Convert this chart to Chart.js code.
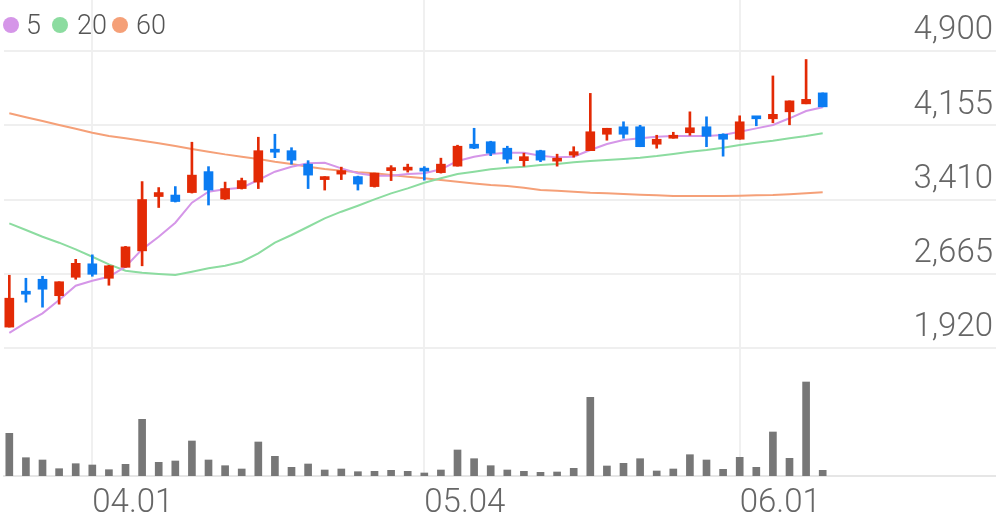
<!DOCTYPE html>
<html>
<head>
<meta charset="utf-8">
<script src="https://cdn.jsdelivr.net/npm/chart.js@4.4.1/dist/chart.umd.min.js"></script>
<style>
  html, body { margin: 0; padding: 0; background: #fff; }
  #wrap { position: relative; width: 996px; height: 519px; }
  #legend { position: absolute; left: 0; top: 0; font-family: Roboto, sans-serif; font-weight: 300; font-size: 27px; color: #555; }
  #legend .dot { position: absolute; width: 16px; height: 16px; border-radius: 50%; top: 17px; }
  #legend .txt { position: absolute; top: 9px; line-height: 32px; }
</style>
</head>
<body>
<div id="wrap">
  <canvas id="chart"></canvas>
  <div id="legend"></div>
</div>
<script>
// trading days (MM.DD)
var dates = ['03.25', '03.26', '03.27', '03.30', '03.31', '04.01', '04.02', '04.03', '04.06', '04.07',
             '04.08', '04.09', '04.10', '04.13', '04.14', '04.16', '04.17', '04.20', '04.21', '04.22',
             '04.23', '04.24', '04.27', '04.28', '04.29', '05.04', '05.06', '05.07', '05.08', '05.11',
             '05.12', '05.13', '05.14', '05.15', '05.18', '05.19', '05.20', '05.21', '05.22', '05.25',
             '05.26', '05.27', '05.28', '05.29', '06.01', '06.02', '06.03', '06.04', '06.05', '06.08'];

var openP  = [2130, 2470, 2610, 2445, 2630, 2765, 2620, 2730, 2895, 3440,
              3455, 3480, 3690, 3415, 3520, 3585, 3895, 3900, 3765, 3610,
              3665, 3640, 3540, 3700, 3705, 3705, 3680, 3745, 3965, 3990,
              3925, 3800, 3900, 3795, 3855, 3900, 4065, 4140, 4140, 3965,
              4025, 4080, 4140, 4065, 4015, 4240, 4220, 4290, 4370, 4480];
var highP  = [2650, 2620, 2640, 2585, 2810, 2855, 2750, 2940, 3590, 3530,
              3540, 3985, 3740, 3585, 3625, 4035, 4065, 3930, 3800, 3640,
              3735, 3645, 3675, 3750, 3765, 3740, 3825, 3955, 4125, 3995,
              3945, 3875, 3905, 3865, 3940, 4475, 4125, 4190, 4155, 4055,
              4085, 4290, 4240, 4070, 4250, 4240, 4650, 4400, 4815, 4480];
var lowP   = [2130, 2380, 2330, 2360, 2610, 2640, 2550, 2730, 2745, 3330,
              3385, 3475, 3355, 3410, 3515, 3520, 3830, 3765, 3520, 3505,
              3610, 3505, 3535, 3600, 3685, 3605, 3675, 3745, 3920, 3850,
              3775, 3745, 3790, 3745, 3835, 3900, 4005, 4025, 3940, 3925,
              4025, 4055, 3940, 3845, 4015, 4150, 4180, 4160, 4370, 4340];
var closeP = [2420, 2460, 2510, 2585, 2770, 2660, 2745, 2935, 3410, 3480,
              3390, 3655, 3505, 3520, 3600, 3900, 3885, 3805, 3655, 3640,
              3700, 3565, 3675, 3730, 3735, 3695, 3765, 3945, 3925, 3875,
              3815, 3840, 3805, 3825, 3890, 4090, 4125, 4065, 3940, 4015,
              4055, 4130, 4045, 4015, 4190, 4220, 4265, 4400, 4415, 4340];

var volume = [427, 183, 160, 73, 123, 110, 63, 117, 567, 137,
              150, 350, 160, 103, 70, 340, 197, 87, 120, 60,
              70, 43, 47, 57, 47, 30, 60, 260, 173, 103,
              60, 47, 37, 40, 77, 787, 100, 127, 173, 50,
              70, 213, 160, 67, 187, 87, 440, 177, 940, 57];

var ma5  = [2073, 2174, 2268, 2402, 2545, 2595, 2635, 2736, 2910, 3037,
            3177, 3378, 3488, 3512, 3528, 3606, 3689, 3739, 3773, 3779,
            3723, 3673, 3649, 3649, 3666, 3673, 3713, 3796, 3840, 3867,
            3880, 3880, 3850, 3833, 3840, 3907, 3967, 4007, 4024, 4040,
            4047, 4047, 4047, 4057, 4090, 4124, 4158, 4225, 4298, 4335];
var ma20 = [3171, 3104, 3037, 2977, 2910, 2836, 2760, 2696, 2676, 2663,
            2652, 2686, 2720, 2746, 2786, 2870, 2977, 3054, 3137, 3221,
            3288, 3348, 3412, 3472, 3522, 3579, 3623, 3666, 3689, 3713,
            3730, 3739, 3756, 3766, 3783, 3796, 3806, 3816, 3829, 3846,
            3867, 3890, 3907, 3930, 3957, 3980, 4000, 4024, 4047, 4074];
var ma60 = [4275, 4235, 4198, 4158, 4120, 4081, 4047, 4024, 4000, 3974,
            3947, 3917, 3890, 3863, 3840, 3816, 3789, 3766, 3739, 3716,
            3699, 3683, 3673, 3656, 3639, 3623, 3606, 3589, 3572, 3555,
            3545, 3528, 3505, 3498, 3488, 3478, 3472, 3465, 3458, 3452,
            3445, 3445, 3445, 3445, 3448, 3452, 3455, 3462, 3472, 3482];

var maNames = ['5', '20', '60'];
var priceTicks = [1920, 2665, 3410, 4155, 4900];
var dateTicks = ['04.01', '05.04', '06.01'];

var RED = '#e32a05';
var BLUE = '#0b7cf2';
var maColors = ['#d596e8', '#8cdca0', '#f5a078'];

var candleColors = closeP.map(function(c, i) { return c >= openP[i] ? RED : BLUE; });

function pts(arr) {
    return arr.map(function(v, i) { return {x: i, y: v}; });
}

function noPad(axis) {
    axis.paddingTop = 0;
    axis.paddingBottom = 0;
    axis.paddingLeft = 0;
    axis.paddingRight = 0;
}

// legend (html, sits over the plot like the original)
var legendPos = [[3, 26], [52, 77], [112, 136]];
var legend = document.getElementById('legend');
maNames.forEach(function(name, k) {
    var dot = document.createElement('span');
    dot.className = 'dot';
    dot.style.left = legendPos[k][0] + 'px';
    dot.style.background = maColors[k];
    legend.appendChild(dot);
    var txt = document.createElement('span');
    txt.className = 'txt';
    txt.style.left = legendPos[k][1] + 'px';
    txt.textContent = name;
    legend.appendChild(txt);
});

Chart.defaults.font.family = 'Roboto, sans-serif';

var ctx = document.getElementById('chart');
var chart = new Chart(ctx, {
    type: 'bar',
    data: {
        datasets: [
            {
                // wicks
                type: 'bar',
                data: lowP.map(function(l, i) { return {x: i, y: [l, highP[i]]}; }),
                backgroundColor: candleColors,
                barThickness: 2,
                grouped: false,
                minBarLength: 1,
                yAxisID: 'y',
                order: 1
            },
            {
                // bodies
                type: 'bar',
                data: openP.map(function(o, i) { return {x: i, y: [o, closeP[i]]}; }),
                backgroundColor: candleColors,
                barThickness: 9,
                grouped: false,
                minBarLength: 3,
                yAxisID: 'y',
                order: 0
            },
            {
                type: 'bar',
                data: pts(volume),
                backgroundColor: '#777777',
                barThickness: 7,
                grouped: false,
                yAxisID: 'yVol',
                order: 3
            },
            {
                type: 'line',
                data: pts(ma5),
                borderColor: maColors[0],
                borderWidth: 2,
                pointRadius: 0,
                tension: 0,
                yAxisID: 'y',
                order: 2
            },
            {
                type: 'line',
                data: pts(ma20),
                borderColor: maColors[1],
                borderWidth: 2,
                pointRadius: 0,
                tension: 0,
                yAxisID: 'y',
                order: 2
            },
            {
                type: 'line',
                data: pts(ma60),
                borderColor: maColors[2],
                borderWidth: 2,
                pointRadius: 0,
                tension: 0,
                yAxisID: 'y',
                order: 2
            }
        ]
    },
    options: {
        responsive: true,
        maintainAspectRatio: false,
        animation: false,
        layout: { padding: { left: 4, right: 0, top: 0, bottom: 0 } },
        plugins: {
            legend: { display: false },
            tooltip: { enabled: false }
        },
        scales: {
            x: {
                type: 'linear',
                min: -0.32,
                max: 59.44,
                offset: false,
                afterBuildTicks: function(axis) {
                    axis.ticks = dateTicks.map(function(d) { return {value: dates.indexOf(d)}; });
                },
                afterFit: function(axis) { axis.height = 43; noPad(axis); },
                grid: { color: '#f0f0f0', lineWidth: 2, drawTicks: false, offset: false },
                border: { color: '#e6e6e6', width: 2 },
                ticks: {
                    align: 'start',
                    padding: 8,
                    maxRotation: 0,
                    autoSkip: false,
                    color: '#666',
                    font: { size: 33, weight: '300' },
                    callback: function(v) { return dates[v]; }
                }
            },
            y: {
                type: 'linear',
                position: 'right',
                min: 636,
                max: 5412,
                afterBuildTicks: function(axis) {
                    axis.ticks = priceTicks.map(function(v) { return {value: v}; });
                },
                afterFit: function(axis) { axis.width = 0; noPad(axis); },
                grid: { color: '#efefef', lineWidth: 2, drawTicks: false },
                border: { display: false },
                ticks: {
                    mirror: true,
                    padding: -3,
                    labelOffset: -20,
                    color: '#666',
                    font: { size: 33, weight: '300' },
                    callback: function(v) { return v.toLocaleString('en-US'); }
                }
            },
            yVol: {
                type: 'linear',
                display: false,
                min: 0,
                max: 4760
            }
        }
    }
});
</script>
</body>
</html>
